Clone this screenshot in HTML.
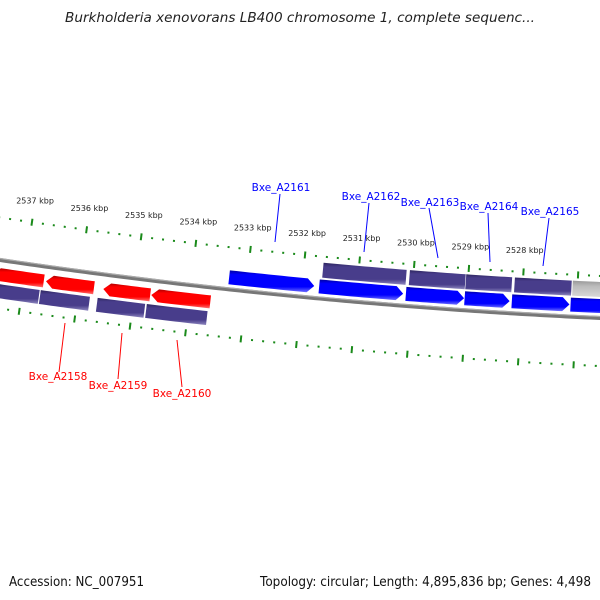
<!DOCTYPE html>
<html><head><meta charset="utf-8"><style>
html,body{margin:0;padding:0;background:#fff;}
svg{display:block;font-family:"DejaVu Sans","Liberation Sans",sans-serif;}
</style></head><body>
<svg id="chart" width="600" height="600" viewBox="0 0 600 600" xmlns="http://www.w3.org/2000/svg">
<defs>
<linearGradient id="gRed" x1="0" y1="0" x2="0" y2="1"><stop offset="0" stop-color="#b00000"/><stop offset="0.2" stop-color="#ff0000"/><stop offset="0.75" stop-color="#ff0000"/><stop offset="1" stop-color="#ff7070"/></linearGradient>
<linearGradient id="gBlue" x1="0" y1="0" x2="0" y2="1"><stop offset="0" stop-color="#0000a0"/><stop offset="0.2" stop-color="#0000ff"/><stop offset="0.75" stop-color="#0000ff"/><stop offset="1" stop-color="#7070ff"/></linearGradient>
<linearGradient id="gPur" x1="0" y1="0" x2="0" y2="1"><stop offset="0" stop-color="#2e2660"/><stop offset="0.2" stop-color="#483d8b"/><stop offset="0.75" stop-color="#483d8b"/><stop offset="1" stop-color="#8f88c0"/></linearGradient>
<linearGradient id="gGray" x1="0" y1="0" x2="0" y2="1"><stop offset="0" stop-color="#999"/><stop offset="0.3" stop-color="#bbb"/><stop offset="1" stop-color="#ddd"/></linearGradient>
</defs>
<text x="300" y="22" text-anchor="middle" font-size="13" font-style="italic" fill="#222" textLength="470" lengthAdjust="spacingAndGlyphs">Burkholderia xenovorans LB400 chromosome 1, complete sequenc...</text>
<g id="layer"></g>
<text x="9" y="586" font-size="13" fill="#111" textLength="135" lengthAdjust="spacingAndGlyphs">Accession: NC_007951</text>
<text x="260" y="586" font-size="13" fill="#111" textLength="331" lengthAdjust="spacingAndGlyphs">Topology: circular; Length: 4,895,836 bp; Genes: 4,498</text>
</svg>
<script>
// ---- data ----
const tickMajorKbp = [2538,2537,2536,2535,2534,2533,2532,2531,2530,2529,2528,2527,2526];
const tickLabels = ["2537 kbp","2536 kbp","2535 kbp","2534 kbp","2533 kbp","2532 kbp","2531 kbp","2530 kbp","2529 kbp","2528 kbp"];
const tickLabelKbp = [2537,2536,2535,2534,2533,2532,2531,2530,2529,2528];
const revGeneStart = [2537.56,2536.60,2535.56,2534.69];
const revGeneEnd   = [2536.64,2535.73,2534.71,2533.62];
const revCdsStart  = [2537.47,2536.67,2535.64,2534.75];
const revCdsEnd    = [2536.69,2535.78,2534.78,2533.65];
const fwdGeneStart = [2533.33,2531.69,2530.11,2529.04,2528.18,2527.11];
const fwdGeneEnd   = [2531.78,2530.16,2529.05,2528.22,2527.13,2525.84];
const fwdCdsStart  = [2531.65,2530.07,2529.04,2528.15];
const fwdCdsEnd    = [2530.13,2529.05,2528.20,2527.11];
const otherStart = [2527.09];
const otherEnd = [2525.80];
const revLabels = ["Bxe_A2158","Bxe_A2159","Bxe_A2160"];
const fwdLabels = ["Bxe_A2161","Bxe_A2162","Bxe_A2163","Bxe_A2164","Bxe_A2165"];

// ---- axis / geometry ----
const X0 = 26, SCALE = 55, REF = 2537;
function kx(k){ return X0 + (REF - k) * SCALE; }
function fy(x){ return 260 + 0.1477*x - 0.000085*x*x; }
function slope(x){ return 0.1477 - 0.00017*x; }
function pt(x,d){ const s=slope(x), n=Math.sqrt(1+s*s); return [x - d*s/n, fy(x) + d/n]; }
const NS="http://www.w3.org/2000/svg";
const layer=document.getElementById('layer');
function mk(tag,attrs){ const e=document.createElementNS(NS,tag); for(const k in attrs) e.setAttribute(k,attrs[k]); layer.appendChild(e); return e; }
function fmt(p){ return p[0].toFixed(2)+","+p[1].toFixed(2); }

// backbone
(function(){
  let pts=[]; for(let x=-20;x<=620;x+=5) pts.push(fmt(pt(x,0)));
  let e=mk('polyline',{points:pts.join(' '),fill:'none',stroke:'#777','stroke-width':4});
  
  
  let pts2=[]; for(let x=-20;x<=620;x+=5) pts2.push(fmt(pt(x,-1.5)));
  let e2=mk('polyline',{points:pts2.join(' '),fill:'none',stroke:'#aaa','stroke-width':1.2});
  
  
})();

// ticks
function drawTicks(d, nm){
  for(let i=0;i<tickMajorKbp.length-1;i++){
    for(let j=0;j<5;j++){
      const k=tickMajorKbp[i]-j*0.2; const x=kx(k);
      if(x<-10||x>610) continue;
      let e;
      if(j===0){ const a=pt(x,d-3.5), b=pt(x,d+3.5);
        e=mk('line',{x1:a[0],y1:a[1],x2:b[0],y2:b[1],stroke:'#1a8a1a','stroke-width':2});
        
      } else { const a=pt(x,d-1), b=pt(x,d+1);
        e=mk('line',{x1:a[0],y1:a[1],x2:b[0],y2:b[1],stroke:'#1a8a1a','stroke-width':2});
        
      }
      
    }
  }
}
drawTicks(-42,'upper');
drawTicks(48,'lower');
tickLabelKbp.forEach((k,i)=>{
  const p=pt(kx(k),-64);
  const t=mk('text',{x:p[0],y:p[1]+3,'font-size':8,'text-anchor':'middle',fill:'#222'});
  t.textContent=tickLabels[i];
  
  
});

// features
function feature(k1,k2,d1,d2,dir,fill,nm){
  const x1=kx(k1), x2=kx(k2), head=7, mid=(d1+d2)/2;
  let top=[],bot=[];
  let a=x1,b=x2;
  if(dir>0) b=x2-head; if(dir<0) a=x1+head;
  for(let i=0;i<=12;i++){ const x=a+(b-a)*i/12; top.push(pt(x,d1)); bot.push(pt(x,d2)); }
  let poly=[];
  if(dir<0) poly.push(pt(x1,mid));
  poly=poly.concat(top);
  if(dir>0) poly.push(pt(x2,mid));
  poly=poly.concat(bot.reverse());
  const e=mk('polygon',{points:poly.map(fmt).join(' '),fill:fill});
  
  
}
revGeneStart.forEach((s,i)=>feature(s,revGeneEnd[i],8,21,-1,'url(#gRed)','reverse-gene'));
revCdsStart.forEach((s,i)=>feature(s,revCdsEnd[i],24,38,0,'url(#gPur)','reverse-cds'));
fwdGeneStart.forEach((s,i)=>feature(s,fwdGeneEnd[i],-19,-5,1,'url(#gBlue)','forward-gene'));
fwdCdsStart.forEach((s,i)=>feature(s,fwdCdsEnd[i],-36,-21,0,'url(#gPur)','forward-cds'));
otherStart.forEach((s,i)=>feature(s,otherEnd[i],-36,-21,0,'url(#gGray)','other-feature'));

// labels (leader endpoints are annotation layout)
const revLab=[[65,323,59,372,58,380],[122,333,118,379,118,389],[177,340,182,387,182,397]];
revLabels.forEach((s,i)=>{
  const L=revLab[i];
  const l=mk('line',{x1:L[0],y1:L[1],x2:L[2],y2:L[3],stroke:'#ff0000','stroke-width':1});
  
  
  const t=mk('text',{x:L[4],y:L[5],'font-size':10.5,'text-anchor':'middle',fill:'#ff0000'});
  t.textContent=s;
  
  
});
const fwdLab=[[280,194,275,242,281,191],[369,203,364,252,371,200],[429,208,438,258,430,206],[488,213,490,262,489,210],[549,218,543,266,550,215]];
fwdLabels.forEach((s,i)=>{
  const L=fwdLab[i];
  const l=mk('line',{x1:L[0],y1:L[1],x2:L[2],y2:L[3],stroke:'#0000ff','stroke-width':1});
  
  
  const t=mk('text',{x:L[4],y:L[5],'font-size':10.5,'text-anchor':'middle',fill:'#0000ff'});
  t.textContent=s;
  
  
});
</script>
</body></html>
